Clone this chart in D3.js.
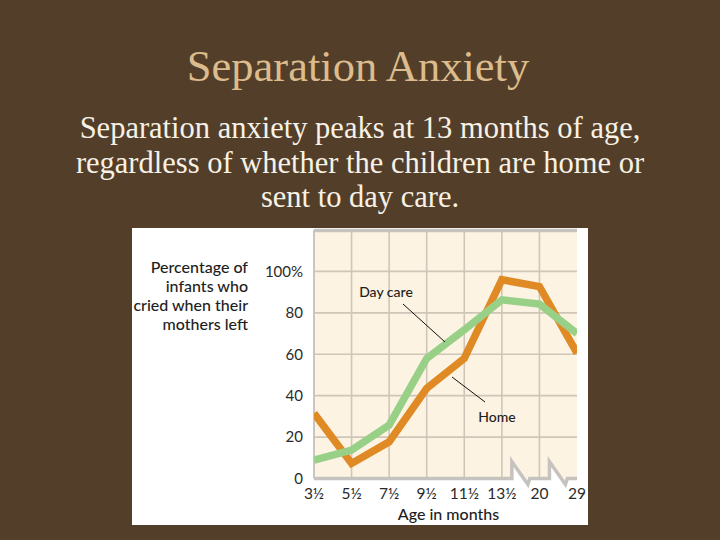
<!DOCTYPE html>
<html>
<head>
<meta charset="utf-8">
<script src="https://cdn.jsdelivr.net/npm/d3@7"></script>
<style>
  html, body { margin: 0; padding: 0; background: #533f29; }
  svg { display: block; }
</style>
</head>
<body>
<svg id="chart" width="720" height="540"></svg>
<script>
// ---- data ----
const categories = ["3½", "5½", "7½", "9½", "11½", "13½", "20", "29"];
const homeValues = [31.5, 7.3, 17.7, 43.5, 58, 96, 92.7, 60.5];
const dayCareValues = [8.9, 13.7, 25.8, 58, 71.8, 86.3, 84.2, 70];
const yTicks = [0, 20, 40, 60, 80, 100];
const yTickLabels = ["0", "20", "40", "60", "80", "100%"];
const breakAfter = ["13½", "20"];
const titleText = "Separation Anxiety";
const subtitleLines = [
  "Separation anxiety peaks at 13 months of age,",
  "regardless of whether the children are home or",
  "sent to day care."
];
const yTitleLines = ["Percentage of", "infants who", "cried when their", "mothers left"];

// ---- layout ----
const svg = d3.select("#chart");
const panel = { x: 132, y: 228, w: 456, h: 297 };
const plot = { left: 314, right: 577, top: 230, bottom: 478.5 };

const x = d3.scalePoint().domain(categories).range([plot.left, plot.right]);
const y = d3.scaleLinear().domain([0, 120]).range([plot.bottom, plot.top]);

const serif = "'Liberation Serif', 'DejaVu Serif', serif";
const sans = "Lato, 'Open Sans', sans-serif";

// title
svg.append("text")
  .attr("x", 358).attr("y", 81)
  .attr("text-anchor", "middle")
  .attr("font-family", serif).attr("font-size", 44.5)
  .attr("fill", "#dcbb8c")
  .text(titleText);

svg.append("g").selectAll("text").data(subtitleLines).join("text")
  .attr("x", 360).attr("y", (d, i) => 138 + i * 34.5)
  .attr("text-anchor", "middle")
  .attr("font-family", serif).attr("font-size", 30.5)
  .attr("fill", "#f7f1e6")
  .text(d => d);

// panel
const defs = svg.append("defs");
defs.append("clipPath").attr("id", "panelClip")
  .append("rect").attr("x", panel.x).attr("y", panel.y).attr("width", panel.w).attr("height", panel.h);
defs.append("clipPath").attr("id", "plotClip")
  .append("rect").attr("x", plot.left).attr("y", plot.top)
  .attr("width", plot.right - plot.left).attr("height", plot.bottom - plot.top);

const g = svg.append("g").attr("clip-path", "url(#panelClip)");
g.append("rect").attr("x", panel.x).attr("y", panel.y).attr("width", panel.w).attr("height", panel.h)
  .attr("fill", "#ffffff");

// bottom boundary path with breaks
const y0 = y(0);
const boundary = [[plot.left, y0]];
breakAfter.forEach(c => {
  const bx = x(c) + 10;
  boundary.push([bx, y0], [bx, y0 - 17], [bx + 16, y0 + 6], [bx + 18, y0]);
});
boundary.push([plot.right, y0]);

const bgPoly = [[plot.left, plot.top], [plot.right, plot.top], ...boundary.slice().reverse()];
g.append("path")
  .attr("d", d3.line()(bgPoly) + "Z")
  .attr("fill", "#fdf3e2");

// grid
const grid = g.append("g").attr("clip-path", "url(#plotClip)");
grid.selectAll("line.v").data(categories.slice(1, -1)).join("line")
  .attr("x1", d => x(d)).attr("x2", d => x(d))
  .attr("y1", plot.top).attr("y2", plot.bottom)
  .attr("stroke", "#cfc6b9").attr("stroke-width", 1.6);
grid.selectAll("line.h").data(yTicks.slice(1)).join("line")
  .attr("x1", plot.left).attr("x2", plot.right)
  .attr("y1", d => y(d)).attr("y2", d => y(d))
  .attr("stroke", "#cfc6b9").attr("stroke-width", 1.6);

// axes frame
g.append("line").attr("x1", plot.left).attr("x2", plot.left)
  .attr("y1", plot.top).attr("y2", y0)
  .attr("stroke", "#c9c5c0").attr("stroke-width", 2);
g.append("line").attr("x1", plot.left).attr("x2", plot.right)
  .attr("y1", plot.top + 0.5).attr("y2", plot.top + 0.5)
  .attr("stroke", "#c6c2bd").attr("stroke-width", 3.5);
g.append("path")
  .attr("d", d3.line()(boundary))
  .attr("fill", "none")
  .attr("stroke", "#c6c2bd").attr("stroke-width", 3.5)
  .attr("stroke-linejoin", "miter");

// lines
const lineGen = d3.line().x((d, i) => x(categories[i])).y(d => y(d));
const lines = g.append("g").attr("clip-path", "url(#plotClip)");
lines.append("path").datum(homeValues)
  .attr("d", lineGen).attr("fill", "none")
  .attr("stroke", "#df8a24").attr("stroke-width", 7.5)
  .attr("stroke-linejoin", "miter");
lines.append("path").datum(dayCareValues)
  .attr("d", lineGen).attr("fill", "none")
  .attr("stroke", "#99d088").attr("stroke-width", 7.5)
  .attr("stroke-linejoin", "miter");

// annotations
g.append("line").attr("x1", 403).attr("y1", 304).attr("x2", 445).attr("y2", 342)
  .attr("stroke", "#111").attr("stroke-width", 1);
g.append("line").attr("x1", 452).attr("y1", 377).attr("x2", 485).attr("y2", 402)
  .attr("stroke", "#111").attr("stroke-width", 1);
g.append("text").attr("x", 386).attr("y", 297).attr("text-anchor", "middle")
  .attr("font-family", sans).attr("font-size", 14).attr("font-weight", 500)
  .attr("fill", "#1e1e1e").text("Day care");
g.append("text").attr("x", 497).attr("y", 421.5).attr("text-anchor", "middle")
  .attr("font-family", sans).attr("font-size", 14).attr("font-weight", 500)
  .attr("fill", "#1e1e1e").text("Home");

// y tick labels
g.selectAll("text.yt").data(yTicks).join("text")
  .attr("x", 303).attr("y", d => y(d)).attr("dy", "0.35em")
  .attr("text-anchor", "end")
  .attr("font-family", sans).attr("font-size", 15)
  .attr("fill", "#2a2a2a")
  .text((d, i) => yTickLabels[i]);

// x tick labels
g.selectAll("text.xt").data(categories).join("text")
  .attr("x", d => x(d)).attr("y", 498.5)
  .attr("text-anchor", "middle")
  .attr("font-family", sans).attr("font-size", 15.5)
  .attr("fill", "#2a2a2a")
  .text(d => d);

// axis titles
g.append("text").attr("x", (plot.left + plot.right) / 2 + 3).attr("y", 520)
  .attr("text-anchor", "middle")
  .attr("font-family", sans).attr("font-size", 16).attr("font-weight", 500)
  .attr("fill", "#1e1e1e").text("Age in months");

g.selectAll("text.ytl").data(yTitleLines).join("text")
  .attr("x", 248).attr("y", (d, i) => 272.5 + i * 19)
  .attr("text-anchor", "end")
  .attr("font-family", sans).attr("font-size", 16).attr("font-weight", 500)
  .attr("fill", "#1e1e1e").text(d => d);
</script>
</body>
</html>
